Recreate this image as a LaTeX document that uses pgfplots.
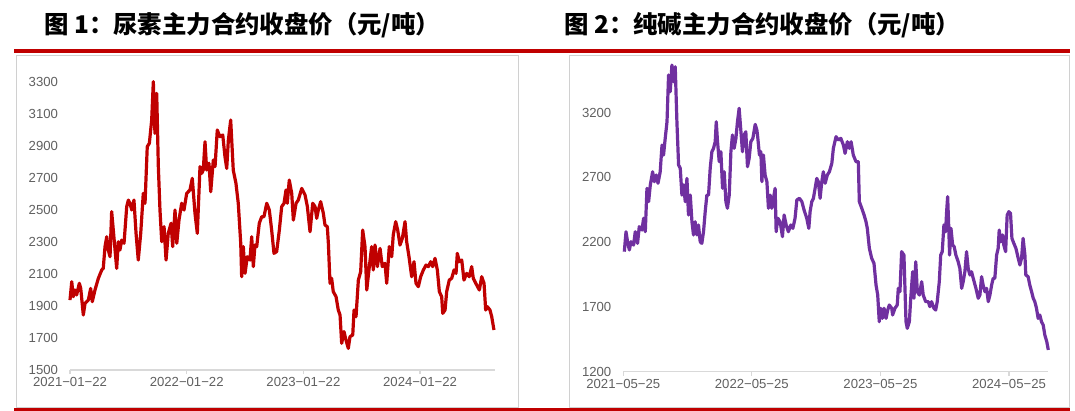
\documentclass[border=0pt]{standalone}
\usepackage{pgfplots}
\pgfplotsset{compat=1.18}
\usepackage{fontspec}
\setmainfont{Liberation Sans}
\newfontfamily\cjk{Noto Sans CJK SC}
\definecolor{hdred}{HTML}{C00000}
\definecolor{ureared}{HTML}{C00000}
\definecolor{sodapurple}{HTML}{7030A0}
\definecolor{ticktext}{HTML}{606060}
\definecolor{axisgray}{HTML}{D9D9D9}
\definecolor{boxgray}{HTML}{D0D0D0}

\pgfplotsset{
  panel/.style={
    scale only axis,
    anchor=south west,
    axis x line*=bottom,
    axis y line*=left,
    y axis line style={draw=none},
    x axis line style={draw=axisgray, line width=1.3bp},
    tick align=outside,
    major tick length=4bp,
    xtick style={draw=axisgray, line width=1.2bp},
    ytick style={draw=none},
    xtick={0,1,2,3},
    tick label style={font=\fontsize{13.2}{15}\selectfont, text=ticktext},
    yticklabel style={xshift=-4.5bp},
    /pgf/number format/assume math mode=true,
    /pgf/number format/1000 sep={},
    clip=false,
  }
}

\begin{document}
\begin{tikzpicture}
\useasboundingbox (0,0) rectangle (1075bp,-411bp);

% titles
\node[anchor=west, inner sep=0] at (44bp,-25bp) {\cjk\bfseries\fontsize{24.5}{26}\selectfont 图 1：尿素主力合约收盘价（元/吨）};
\node[anchor=west, inner sep=0] at (564bp,-25bp) {\cjk\bfseries\fontsize{24.5}{26}\selectfont 图 2：纯碱主力合约收盘价（元/吨）};

% frames
\draw[boxgray, line width=1bp] (16.5bp,-55bp) rectangle (518bp,-407bp);
\draw[boxgray, line width=1bp] (569.5bp,-55bp) rectangle (1069bp,-407bp);
\draw[hdred, line width=3.5bp] (14bp,-51bp) -- (1070bp,-51bp);
\draw[hdred, line width=3bp] (14bp,-409.5bp) -- (1070bp,-409.5bp);

% Left: urea
\begin{axis}[panel,
  at={(70bp,-370bp)},
  width=425bp, height=296bp,
  xmin=0, xmax=3.642,
  ymin=1500, ymax=3350,
  ytick={1500,1700,1900,2100,2300,2500,2700,2900,3100,3300},
  xticklabels={2021−01−22,2022−01−22,2023−01−22,2024−01−22},
]
\addplot[ureared, line width=3.2bp, line join=round] coordinates {
(0.000,1937)(0.015,2052)(0.028,1958)(0.043,2000)(0.057,1969)(0.080,2042)(0.092,2010)
(0.114,1844)(0.129,1917)(0.157,1937)(0.177,2010)(0.191,1927)(0.214,2000)(0.243,2073)
(0.272,2125)(0.285,2135)(0.300,2271)(0.315,2333)(0.328,2250)(0.343,2208)(0.357,2490)
(0.371,2375)(0.400,2135)(0.414,2302)(0.428,2250)(0.443,2312)(0.463,2292)(0.486,2521)
(0.500,2562)(0.514,2542)(0.529,2500)(0.548,2562)(0.566,2354)(0.585,2187)(0.606,2354)
(0.628,2604)(0.643,2542)(0.662,2896)(0.680,2917)(0.700,3062)(0.714,3302)(0.728,2979)
(0.743,3229)(0.757,2771)(0.771,2500)(0.786,2302)(0.806,2396)(0.823,2187)(0.842,2354)
(0.866,2417)(0.880,2271)(0.900,2500)(0.915,2292)(0.934,2437)(0.957,2542)(0.977,2500)
(1.000,2604)(1.028,2625)(1.048,2698)(1.071,2479)(1.091,2354)(1.114,2771)(1.129,2729)
(1.142,2750)(1.157,2927)(1.171,2750)(1.177,2771)(1.191,2792)(1.206,2614)(1.228,2812)
(1.243,2771)(1.262,3000)(1.285,2958)(1.309,2969)(1.328,2833)(1.343,2760)(1.357,2937)
(1.377,3062)(1.399,2750)(1.422,2667)(1.442,2542)(1.463,2292)(1.471,2083)(1.485,2271)
(1.500,2104)(1.519,2208)(1.542,2187)(1.557,2333)(1.571,2146)(1.585,2281)(1.600,2271)
(1.622,2417)(1.643,2458)(1.662,2458)(1.686,2542)(1.708,2500)(1.728,2375)(1.748,2229)
(1.771,2240)(1.794,2375)(1.814,2521)(1.834,2542)(1.851,2625)(1.862,2542)(1.879,2687)
(1.900,2604)(1.914,2437)(1.937,2542)(1.956,2562)(1.986,2635)(2.014,2594)(2.034,2521)
(2.057,2364)(2.080,2542)(2.100,2521)(2.114,2448)(2.128,2500)(2.148,2552)(2.171,2479)
(2.185,2406)(2.205,2396)(2.214,2292)(2.228,2042)(2.242,2073)(2.256,1990)(2.280,1958)
(2.299,1875)(2.314,1844)(2.328,1667)(2.348,1740)(2.365,1687)(2.385,1635)(2.399,1708)
(2.423,1719)(2.434,1875)(2.451,1833)(2.471,2062)(2.491,2115)(2.508,2375)(2.528,2271)
(2.543,2000)(2.565,2146)(2.585,2271)(2.599,2125)(2.614,2281)(2.634,2146)(2.657,2260)
(2.676,2146)(2.699,2167)(2.714,2042)(2.736,2271)(2.757,2208)(2.770,2344)(2.791,2427)
(2.808,2375)(2.828,2281)(2.848,2323)(2.871,2427)(2.885,2302)(2.905,2208)(2.928,2083)
(2.948,2177)(2.965,2042)(2.985,2021)(3.005,2083)(3.028,2125)(3.051,2156)(3.071,2146)
(3.091,2177)(3.108,2146)(3.128,2198)(3.148,2125)(3.165,1990)(3.185,1958)(3.194,1854)
(3.214,1875)(3.228,1990)(3.250,2062)(3.271,2073)(3.291,2125)(3.308,2104)(3.319,2229)
(3.336,2177)(3.357,2187)(3.376,2062)(3.399,2104)(3.422,2083)(3.442,2146)(3.456,2073)
(3.485,2031)(3.508,2000)(3.528,2083)(3.548,2042)(3.562,1875)(3.576,1896)(3.599,1875)
(3.614,1833)(3.633,1750)
};
\end{axis}

% Right: soda ash
\begin{axis}[panel,
  at={(623.3bp,-371.7bp)},
  width=425bp, height=310.8bp,
  xmin=0, xmax=3.306,
  ymin=1200, ymax=3600,
  ytick={1200,1700,2200,2700,3200},
  xticklabels={2021−05−25,2022−05−25,2023−05−25,2024−05−25},
]
\addplot[sodapurple, line width=3.2bp, line join=round] coordinates {
(0.008,2127)(0.021,2281)(0.033,2204)(0.047,2140)(0.060,2204)(0.080,2178)(0.093,2281)
(0.111,2191)(0.124,2320)(0.145,2294)(0.158,2385)(0.171,2281)(0.184,2616)(0.197,2513)
(0.210,2642)(0.228,2744)(0.241,2667)(0.256,2719)(0.270,2655)(0.287,2744)(0.301,2950)
(0.313,2873)(0.326,3002)(0.340,3130)(0.352,3491)(0.365,3362)(0.378,3568)(0.391,3439)
(0.404,3555)(0.417,3130)(0.430,2796)(0.443,2771)(0.456,2564)(0.469,2642)(0.482,2513)
(0.495,2693)(0.507,2410)(0.521,2564)(0.534,2358)(0.546,2256)(0.559,2358)(0.573,2256)
(0.585,2333)(0.598,2204)(0.611,2191)(0.624,2281)(0.637,2436)(0.650,2564)(0.663,2564)
(0.676,2771)(0.689,2899)(0.702,2925)(0.715,2976)(0.723,3130)(0.733,2976)(0.746,2822)
(0.759,2899)(0.772,2616)(0.785,2744)(0.798,2513)(0.810,2462)(0.824,2564)(0.837,2899)
(0.849,3028)(0.862,2925)(0.876,3002)(0.888,3130)(0.901,3234)(0.915,3053)(0.927,2899)
(0.940,3028)(0.953,3053)(0.966,2783)(0.979,2848)(0.992,2976)(1.008,3002)(1.026,3110)
(1.039,3066)(1.044,3028)(1.059,2873)(1.070,2899)(1.078,2667)(1.090,2873)(1.103,2719)
(1.117,2667)(1.129,2462)(1.142,2564)(1.155,2462)(1.168,2539)(1.181,2616)(1.189,2281)
(1.202,2385)(1.220,2358)(1.238,2243)(1.251,2410)(1.267,2333)(1.284,2281)(1.303,2333)
(1.319,2307)(1.336,2385)(1.350,2526)(1.370,2539)(1.389,2513)(1.406,2449)(1.427,2385)
(1.443,2307)(1.453,2436)(1.466,2513)(1.479,2539)(1.492,2616)(1.505,2693)(1.517,2667)
(1.531,2539)(1.544,2667)(1.556,2744)(1.570,2655)(1.587,2719)(1.603,2744)(1.622,2809)
(1.634,2925)(1.655,3015)(1.673,2989)(1.692,3002)(1.712,2950)(1.725,2886)(1.743,2976)
(1.758,2925)(1.772,2976)(1.789,2873)(1.810,2822)(1.828,2822)(1.836,2513)(1.855,2462)
(1.873,2410)(1.888,2358)(1.898,2307)(1.914,2153)(1.932,2076)(1.950,2037)(1.966,1869)
(1.979,1792)(1.991,1586)(2.002,1690)(2.015,1612)(2.028,1690)(2.044,1612)(2.057,1676)
(2.069,1715)(2.088,1690)(2.095,1638)(2.113,1690)(2.131,1715)(2.139,1844)(2.152,1818)
(2.165,2127)(2.183,2101)(2.191,1844)(2.199,1586)(2.209,1535)(2.225,1586)(2.236,1767)
(2.251,1972)(2.261,1767)(2.275,2049)(2.287,1818)(2.303,1792)(2.321,1895)(2.333,1792)
(2.352,1741)(2.372,1741)(2.385,1702)(2.398,1741)(2.416,1690)(2.430,1676)(2.442,1741)
(2.458,1895)(2.469,2101)(2.481,2127)(2.494,2333)(2.507,2281)(2.515,2436)(2.523,2552)
(2.531,2333)(2.538,2101)(2.549,2307)(2.562,2178)(2.574,2165)(2.587,2101)(2.605,2049)
(2.618,1998)(2.632,1844)(2.644,1895)(2.657,1972)(2.670,2127)(2.683,1998)(2.696,1947)
(2.709,1972)(2.722,1921)(2.743,1844)(2.761,1767)(2.774,1792)(2.787,1934)(2.799,1869)
(2.813,1818)(2.826,1844)(2.839,1741)(2.852,1792)(2.865,1869)(2.877,1921)(2.890,1921)
(2.904,2101)(2.916,2153)(2.924,2294)(2.937,2204)(2.950,2256)(2.960,2178)(2.974,2127)
(2.986,2410)(2.999,2436)(3.012,2423)(3.023,2230)(3.038,2191)(3.054,2153)(3.072,2076)
(3.085,2024)(3.098,2076)(3.110,2230)(3.124,2101)(3.131,1947)(3.149,1934)(3.162,1869)
(3.176,1818)(3.189,1767)(3.201,1741)(3.214,1690)(3.227,1612)(3.240,1638)(3.253,1586)
(3.266,1561)(3.279,1483)(3.294,1432)(3.306,1368)
};
\end{axis}
\end{tikzpicture}
\end{document}
